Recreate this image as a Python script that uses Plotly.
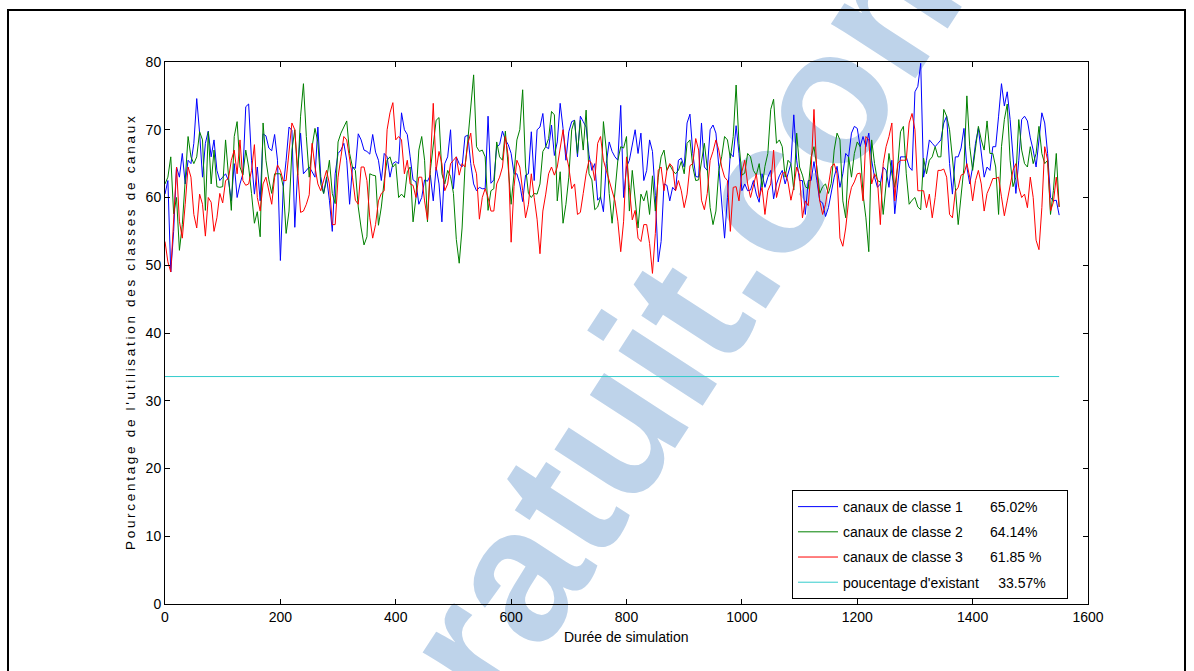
import plotly.graph_objects as go

# Simulation time axis (one sample every 5 time units)
duree = list(range(0, 1555, 5))

# Channel-class utilisation (%) over the simulation
classe_1 = [
    60.5, 62.5, 49, 55, 64.5, 63, 66.5, 62, 65.5, 65,
    68, 74.6, 69.5, 63, 68, 69.8, 66, 68.5, 64, 62.5,
    63, 63.5, 62.5, 59.5, 65, 60, 62, 63.5, 73.4, 73.8,
    65.5, 60.5, 64.5, 59.5, 69.4, 69.1, 67.3, 66.9, 69.3, 65.5,
    50.7, 61.5, 65.5, 70.4, 69.9, 55.6, 64, 69.5, 63.5, 64,
    64.5, 63.8, 63, 70.4, 63.1, 60.6, 63, 59.6, 55, 63.5,
    66.5, 67, 68, 65.5, 59, 64.5, 64.3, 69.4, 68.5, 67,
    66.8, 66.4, 69.3, 66.7, 65.5, 62.5, 66.5, 66, 63, 65,
    65.3,
    65, 72.5, 70, 69.3, 66, 62.6, 62.3, 59, 60, 62.6,
    62.4, 63.3, 59.5, 64.5, 62, 56.4, 65, 66, 70, 61.3,
    66, 65, 64.5, 69, 69.2, 65, 62, 61, 61.5, 61.3,
    61.3, 72, 62.1, 62.6, 67.5, 67.8, 69.8, 68.5, 67.8, 66.5,
    63.5, 63.5, 62, 59.4, 63.3, 63.5, 69.7, 62.5, 70, 70.4,
    72.4, 67.5, 67.2, 70.7, 66.2, 68.2, 73.9, 70.2, 65.5, 69.7,
    71.2, 71.4, 66, 72, 71.2, 70.4, 66.3, 64, 65, 59.6,
    60.1, 57.9, 65, 68.2, 66.8, 66, 65.5, 73.6, 60, 64.5,
    65.5, 67.5, 70, 66.5, 69.5, 62.5, 64, 68.5, 66.8, 60.3,
    50.5, 53.5, 62, 61.8, 59.5, 61.5, 61, 65.5, 65.8, 64.5,
    71, 72.3, 66.5, 63.1, 63, 71, 64.5, 64, 70, 70.7,
    69.5, 64.6, 59.3, 54, 60, 66.5, 66, 70.6, 66.5, 61,
    62, 61, 61.1, 62.5, 60.5, 59.3, 63.5, 61.5, 63, 64,
    59.8, 62, 63.2, 64, 62, 63.5, 65, 72.2, 65.5, 62.5,
    62.5, 57.5, 62.5, 62.5, 65.3, 62.5, 59.5, 59.2, 57.2, 58.5,
    61, 63, 64.6, 61.5, 63.5, 66.5, 66, 69.5, 70.5, 70.2, 67.5,
    69, 67.5, 69.5, 65.5, 63, 61.5, 62, 64.5, 64, 61.5,
    65.5, 57.6, 61.5, 66, 66, 66, 64.5, 64, 75.6, 76.4,
    79.8, 63, 65.5, 68.5, 68, 67.5, 68, 68.5, 71, 72,
    65, 60.5, 66, 66, 67.3, 70.2, 64.5, 62, 64.5, 68,
    70.2, 66.5, 63, 64.5, 64, 67.5, 67.5, 72, 76.8, 73.5,
    75.6, 71.5, 66, 60.6, 65.5, 71.5, 72, 71.3, 68.8, 67,
    64.5, 69, 72.5, 71, 66.5, 60, 59.5, 59.6, 57.4,
]

classe_2 = [
    62, 63, 66, 57.6, 60, 52.2, 56, 63, 69, 66,
    65, 66, 69.7, 68.5, 58.1, 69.7, 62, 67, 61.6, 61.5,
    61.6, 68.5, 62.6, 58.1, 69, 71.2, 64.5, 63.3, 67, 64.5,
    60.6, 56.2, 57.9, 54.2, 71, 65.5, 62.6, 60.6, 63.5, 63.5,
    63.5, 61.6, 54.7, 58, 67, 70, 63.3, 72, 76.8, 69,
    63, 67.5, 70.2, 68.2, 62, 60.6, 62.6, 65.5, 60.6, 59.1,
    68.2, 69.5, 70.5, 71.3, 66.5, 64.5, 64, 58.6, 55.5, 53,
    54.2, 63.5, 63.3, 63.2, 55.9, 58.6, 62.5, 65.5, 66, 64.5,
    65,
    60, 60.5, 60, 63.8, 64.5, 56.4, 60, 67, 69, 65.5,
    56.4, 64, 67.5, 71.4, 71.8, 63.5, 62, 64, 63.1, 60.6,
    53.8, 50.3, 55.5, 64.5, 68.5, 73, 78.1, 67.5, 66.8, 67,
    66, 58.1, 61, 61.3, 68.2, 66, 65.5, 69.8, 64, 59,
    63.5, 68.5, 70, 75.9, 64.5, 60.6, 60, 60.6, 60.5, 62,
    66.8, 67.5, 68.7, 72.7, 72.2, 59.5, 63.8, 56.2, 59, 63,
    70, 71.4, 66.5, 71.4, 67, 72.9, 63.5, 62.6, 58.2, 58.6,
    60, 71.2, 67, 60.6, 56.2, 61.5, 65.5, 67.5, 67.3, 69,
    58, 64, 59.5, 55.5, 60.5, 59.5, 61, 57.5, 63.2, 58,
    63, 66, 67, 64, 64.8, 64, 63.5, 64, 65.3, 63.5,
    68, 68.5, 64.5, 62.5, 62.6, 65.4, 68, 64.3, 58.5, 56,
    58, 64, 66, 69, 68.5, 65.8, 69, 76.6, 68, 63.3,
    63.6, 66.5, 66, 64, 63.3, 65, 61.5, 64.6, 66.5, 73,
    74.5, 68, 68.5, 67.5, 63, 65.5, 65, 61.1, 69.5, 64.5,
    63.3, 61.6, 61.3, 66, 67.5, 64.5, 60.6, 61.6, 62, 60.6,
    62.1, 67, 69.5, 68.5, 59.5, 57, 66, 63, 66.5, 68.2, 67.5,
    60.5, 57, 52, 68.5, 65, 62.5, 62.3, 57.5, 62, 66.5,
    63.5, 61.5, 64.5, 69.7, 70.5, 63.5, 59, 59.6, 60, 58.6,
    58.2, 65.8, 63.5, 65.5, 66, 67.5, 66, 66, 73, 72,
    70, 66, 61.5, 56, 60, 64.5, 75, 67.5, 64, 67,
    70.5, 68.5, 67, 71.3, 66.5, 66.5, 64.5, 57.5, 67.5, 71.5,
    73.8, 65.5, 61.6, 63, 71.5, 67, 65, 64.5, 67.5, 65,
    66.5, 70.5, 66.5, 65, 65.5, 57.5, 61, 66.5, 58.6,
]

classe_3 = [
    53.5, 50.5, 49, 56, 64.5, 56.5, 54, 59, 64.5, 63,
    57.5, 55.5, 60.5, 59, 54.3, 60, 59.3, 55, 57, 60.6,
    59.2, 62.5, 62.8, 65.5, 67, 63.5, 68.5, 62.5, 61.8, 62,
    64, 67.8, 60, 58, 62, 63, 61, 59, 63, 64.8,
    64, 62.5, 62.5, 67, 71, 70, 64, 57.8, 58, 59,
    60.4, 68, 64.5, 62, 61, 62.5, 64, 62, 56, 56,
    63, 66, 69, 68.5, 66, 63, 59.6, 59, 64.5, 64.5,
    62.5, 57, 54, 56, 59.5, 60.6, 61, 70, 72.5, 74,
    68.5,
    69, 68.5, 63.5, 65.5, 62, 61.8, 60, 63, 63, 59.5,
    56.7, 65, 73.9, 64, 66.8, 65, 61, 62, 65, 65.5,
    66, 63.3, 65, 64.5, 68, 69.5, 65, 63.5, 56.8, 60,
    61.3, 60, 58, 58, 62, 63, 64.5, 69, 66, 53.4,
    61.6, 65.5, 64.5, 61, 57, 59, 63.5, 60, 56.8, 51.7,
    58, 60.5, 63.5, 64.5, 63.3, 64.5, 67.5, 70, 66.5, 64.5,
    61.3, 62, 57.5, 57.8, 60.6, 63.5, 65.5, 65, 62.5, 68,
    69, 65.5, 64, 62.5, 61.3, 59.5, 56.5, 52, 56.5, 66,
    61.5, 56.7, 58.1, 54, 53.5, 56, 56, 53.2, 48.8, 54.7,
    64, 64.5, 61, 64, 65, 64.5, 61, 62.5, 61, 58.5,
    60.5, 64.7, 65, 68.7, 67, 59.6, 58.2, 60.6, 65.5, 66.8,
    68.5, 67, 64.5, 63, 62.5, 55, 61.5, 61.6, 59.5, 63.8,
    65.5, 62, 60, 62, 63.5, 60, 61.5, 57.5, 61, 62,
    67, 60, 61.6, 63.5, 63.8, 62.3, 59.6, 61.6, 64.5, 63.3,
    57, 59.5, 58.8, 64, 73, 63.6, 59.5, 57.5, 59, 61.5,
    64.5, 65, 63.5, 54, 52.8, 55.5, 59.5, 61.5, 62.3, 63.5, 63.6,
    59.5, 69, 68.5, 62, 63.5, 62.6, 56, 65, 67.5, 69,
    71, 59.5, 65, 65.5, 65.5, 65.5, 71, 72.4, 70, 61,
    61, 61, 58.5, 60.5, 57, 60, 64, 64, 64.2, 63,
    57.5, 57, 60.9, 61.5, 63.3, 63.5, 65, 63, 59.5, 62.5,
    64, 62, 58, 60.6, 61.6, 62.8, 62.8, 63, 60.1, 57.3,
    59.5, 62, 64, 65, 61.5, 60, 60.5, 58.5, 63, 60,
    53.7, 52.3, 58.5, 67.5, 65.5, 58, 59.3, 63, 58.6,
]

# Share of existing channels (%), constant over the run
existant = 33.57

NB = "\u00a0"
noms = [
    "canaux de classe 1" + NB * 7 + "65.02%",
    "canaux de classe 2" + NB * 7 + "64.14%",
    "canaux de classe 3" + NB * 7 + "61.85 %",
    "poucentage d'existant" + NB * 5 + "33.57%" + NB * 4,
]
couleurs = ["#0000ff", "#008000", "#ff0000", "#33cccc"]

titre_y = "Pourcentage de l'utilisation des classes de canaux"
titre_x = "Durée de simulation"

FONT = "Liberation Sans, Arial, sans-serif"

fig = go.Figure()
series = [classe_1, classe_2, classe_3, [existant] * len(duree)]
for k, (vals, nom, coul) in enumerate(zip(series, noms, couleurs)):
    fig.add_trace(go.Scatter(
        x=duree, y=vals, mode="lines", name=nom,
        line=dict(color=coul, width=1),
        legendgroup=f"g{k}",
    ))

axis_common = dict(
    showline=True, linecolor="black", linewidth=1, mirror="ticks",
    ticks="inside", ticklen=5, tickcolor="black", tickwidth=1,
    showgrid=False, zeroline=False,
    tickfont=dict(family=FONT, size=14, color="black"),
)

fig.update_layout(
    width=1194, height=671,
    margin=dict(l=165, r=106, t=62, b=67, autoexpand=False),
    paper_bgcolor="white", plot_bgcolor="white",
    xaxis=dict(range=[0, 1600], dtick=200, tick0=0, **axis_common),
    yaxis=dict(range=[0, 80], dtick=10, tick0=0, **axis_common),
    showlegend=True,
    legend=dict(
        x=0.6793, y=0.2103, xanchor="left", yanchor="top",
        bgcolor="white", bordercolor="black", borderwidth=1,
        font=dict(family=FONT, size=14, color="black"),
        traceorder="grouped", tracegroupgap=4, itemwidth=40,
    ),
    annotations=[
        dict(text="\u2009".join(titre_y), x=-0.0379, y=0.5,
             xref="paper", yref="paper", textangle=-90, showarrow=False,
             xanchor="center", yanchor="middle",
             font=dict(family=FONT, size=13.5, color="black")),
        dict(text=titre_x, x=0.5, y=-0.0609, xref="paper", yref="paper",
             showarrow=False, xanchor="center", yanchor="middle",
             font=dict(family=FONT, size=14, color="black")),
    ],
    shapes=[
        # site watermark, under the curves
        dict(type="rect", xref="paper", yref="paper",
             x0=0.3511, x1=0.3531, y0=0.0451, y1=0.0471,
             line=dict(width=0, color="rgba(0,0,0,0)"),
             fillcolor="rgba(0,0,0,0)", layer="below",
             label=dict(text="<b>cours-gratuit.com</b>",
                        textangle=-57, textposition="middle center",
                        font=dict(family=FONT, size=190, color="#bed3ea"))),
        # page frame
        dict(type="rect", xref="paper", yref="paper",
             x0=-0.1701, x1=1.1051, y0=-0.14, y1=1.0959,
             line=dict(width=2, color="black"),
             fillcolor="rgba(0,0,0,0)", layer="above"),
    ],
)

fig.write_html("out.html")
